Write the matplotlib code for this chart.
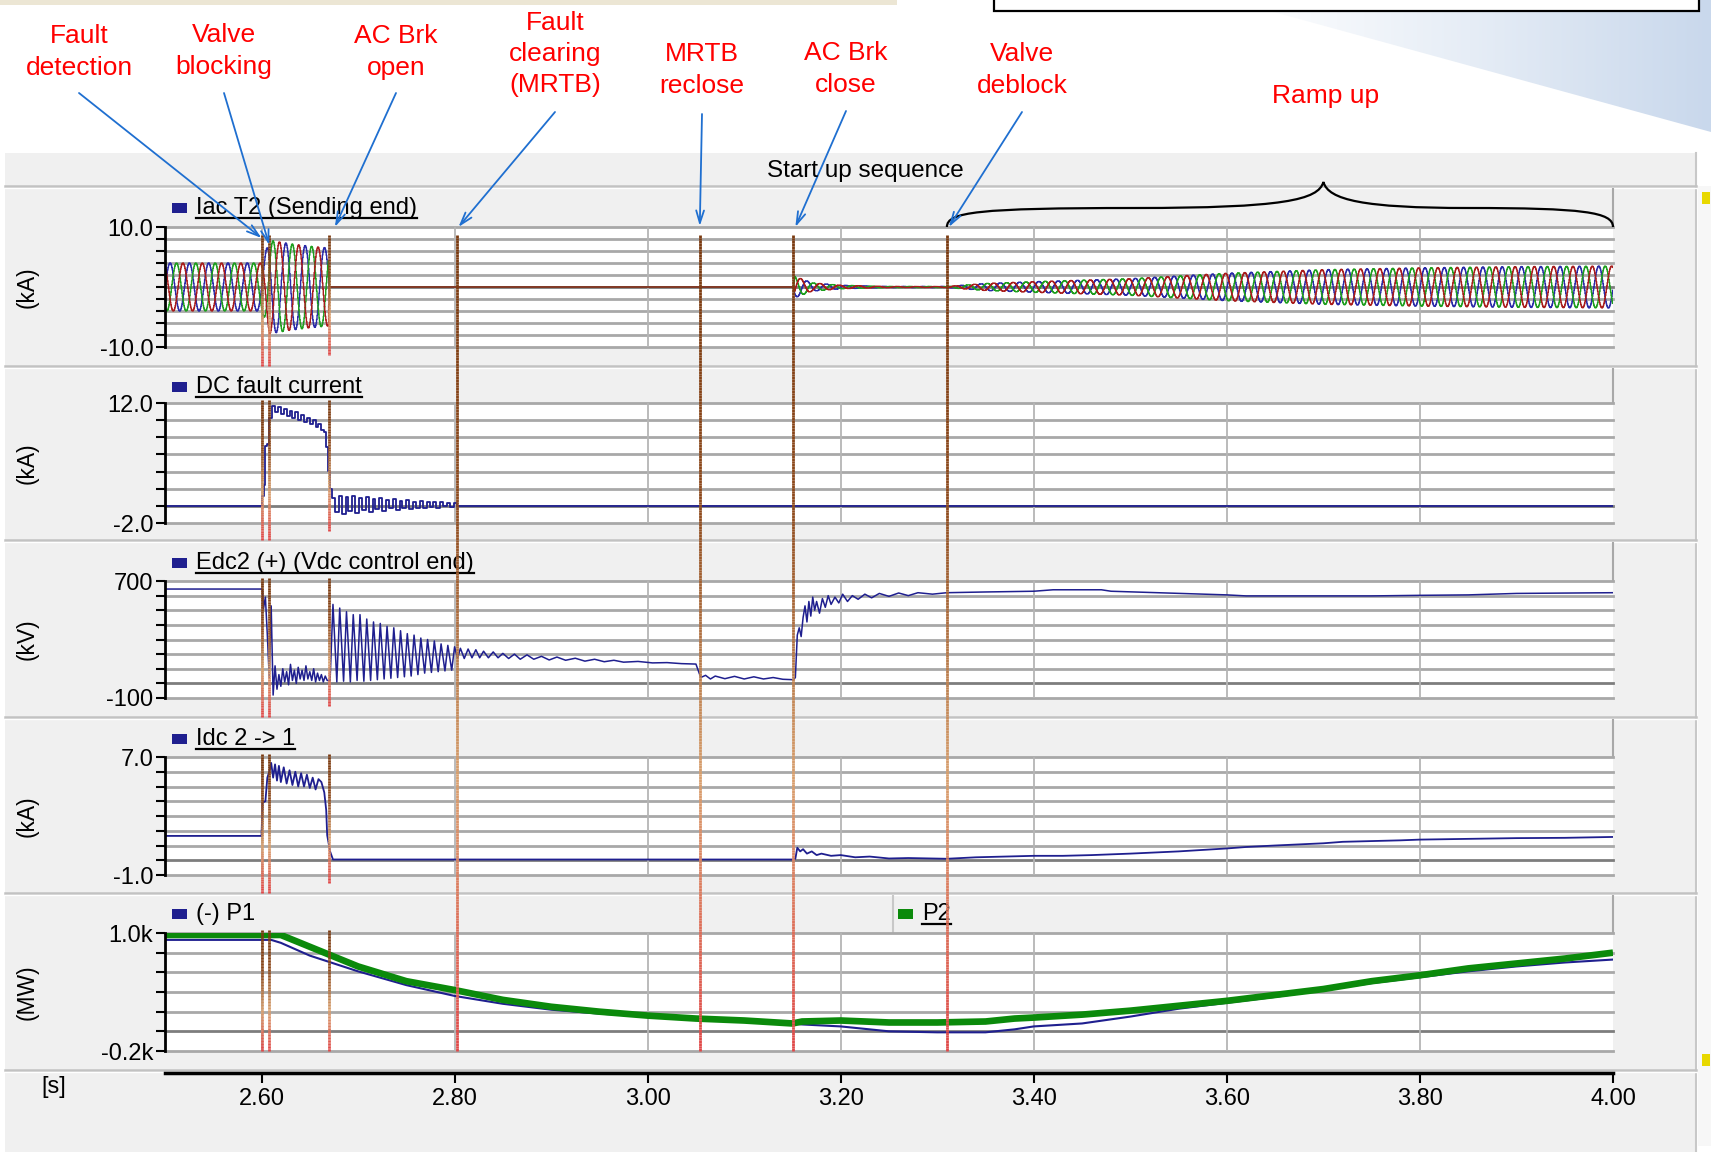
"""
Oscilograma: falla DC, despeje por MRTB y secuencia de arranque.
"""
import numpy as np
import matplotlib
matplotlib.use("Agg")
import matplotlib.pyplot as plt
from matplotlib.collections import LineCollection
from matplotlib.colors import LinearSegmentedColormap
from matplotlib.path import Path
from matplotlib.patches import PathPatch, Rectangle, Polygon

plt.rcParams["font.family"] = ["Liberation Sans", "DejaVu Sans"]

ANCHO, ALTO = 1711, 1152

# ---------------- datos ----------------
T_INI, T_FIN = 2.50, 4.00
TICKS_X = [2.60, 2.80, 3.00, 3.20, 3.40, 3.60, 3.80, 4.00]

EVENTOS_T = [2.600, 2.608, 2.670, 2.802, 3.054, 3.151, 3.310]
EVENTOS_TXT = ["Fault\ndetection", "Valve\nblocking", "AC Brk\nopen",
               "Fault\nclearing\n(MRTB)", "MRTB\nreclose", "AC Brk\nclose",
               "Valve\ndeblock"]

NOMBRES = ["Iac T2 (Sending end)", "DC fault current", "Edc2 (+) (Vdc control end)",
           "Idc 2 -> 1", "(-) P1"]
UNIDADES = ["(kA)", "(kA)", "(kV)", "(kA)", "(MW)"]
Y_MIN = [-10, -2, -100, -1, -0.2]
Y_MAX = [10, 12, 700, 7, 1.0]
Y_PASO = [2, 2, 100, 1, 0.2]
Y_ETIQ_MAX = ["10.0", "12.0", "700", "7.0", "1.0k"]
Y_ETIQ_MIN = ["-10.0", "-2.0", "-100", "-1.0", "-0.2k"]

# Iac T2: envolvente de las tres fases (kA)
IAC_F = 50.0
IAC_T = [2.50, 2.600, 2.608, 2.630, 2.650, 2.669, 2.670, 3.151, 3.152, 3.170,
         3.200, 3.250, 3.310, 3.350, 3.400, 3.500, 3.600, 3.700, 3.800, 3.900, 4.000]
IAC_AMP = [4.0, 4.0, 7.8, 7.2, 6.8, 6.5, 0.0, 0.0, 1.8, 0.7,
           0.3, 0.1, 0.1, 0.6, 0.9, 1.4, 2.3, 2.9, 3.2, 3.4, 3.5]

# Corriente de falla DC (kA)
DCF_T = [2.500, 2.600, 2.601, 2.603, 2.604, 2.606, 2.608, 2.611, 2.614, 2.617,
         2.620, 2.623, 2.626, 2.629, 2.632, 2.635, 2.638, 2.641, 2.644, 2.647,
         2.650, 2.653, 2.656, 2.659, 2.662, 2.665, 2.667, 2.669, 2.671, 2.673,
         2.676, 2.680, 2.683, 2.687, 2.690, 2.694, 2.697, 2.701, 2.704, 2.708,
         2.711, 2.715, 2.718, 2.722, 2.725, 2.729, 2.732, 2.736, 2.739, 2.743,
         2.746, 2.750, 2.753, 2.757, 2.760, 2.764, 2.767, 2.771, 2.774, 2.778,
         2.781, 2.785, 2.788, 2.792, 2.795, 2.799, 2.802, 4.000]
DCF_V = [0.0, 0.0, 1.2, 2.4, 7.0, 7.2, 10.2, 11.6, 10.9, 11.5,
         10.7, 11.3, 10.5, 11.1, 10.3, 10.9, 10.0, 10.6, 9.8, 10.3,
         9.5, 10.0, 9.2, 9.6, 8.9, 8.6, 6.9, 4.1, 2.0, 0.9,
         -0.7, 1.2, -0.9, 1.0, -0.6, 1.1, -0.8, 0.9, -0.5, 1.0,
         -0.7, 0.8, -0.4, 0.9, -0.6, 0.7, -0.3, 0.8, -0.5, 0.6,
         -0.2, 0.7, -0.4, 0.5, -0.2, 0.6, -0.3, 0.4, -0.1, 0.5,
         -0.2, 0.4, 0.0, 0.3, -0.1, 0.3, 0.0, 0.0]

# Edc2 (+) (kV)
EDC_T = [2.500, 2.600, 2.601, 2.602, 2.604, 2.606, 2.608, 2.610, 2.612, 2.614,
         2.616, 2.618, 2.620, 2.622, 2.624, 2.626, 2.628, 2.630, 2.632, 2.634,
         2.636, 2.638, 2.640, 2.642, 2.644, 2.646, 2.648, 2.650, 2.652, 2.654,
         2.656, 2.658, 2.660, 2.662, 2.664, 2.666, 2.668, 2.671, 2.674, 2.678,
         2.681, 2.685, 2.688, 2.692, 2.695, 2.699, 2.702, 2.706, 2.709, 2.713,
         2.716, 2.720, 2.723, 2.727, 2.730, 2.734, 2.737, 2.741, 2.744, 2.748,
         2.751, 2.755, 2.758, 2.762, 2.765, 2.769, 2.772, 2.776, 2.779, 2.783,
         2.786, 2.790, 2.793, 2.797, 2.800, 2.803, 2.806, 2.810, 2.814, 2.818,
         2.822, 2.826, 2.830, 2.835, 2.840, 2.845, 2.850, 2.856, 2.862, 2.868,
         2.875, 2.882, 2.890, 2.898, 2.906, 2.915, 2.925, 2.935, 2.945, 2.955,
         2.965, 2.975, 2.990, 3.005, 3.020, 3.035, 3.050, 3.055, 3.060, 3.065,
         3.070, 3.080, 3.090, 3.100, 3.110, 3.120, 3.130, 3.140, 3.151, 3.153,
         3.155, 3.157, 3.159, 3.161, 3.163, 3.165, 3.167, 3.169, 3.171, 3.173,
         3.175, 3.178, 3.181, 3.184, 3.187, 3.190, 3.194, 3.198, 3.202, 3.207,
         3.212, 3.218, 3.225, 3.232, 3.240, 3.250, 3.260, 3.270, 3.280, 3.295,
         3.310, 3.350, 3.400, 3.420, 3.470, 3.480, 3.550, 3.600, 3.620, 3.750,
         3.800, 3.850, 3.900, 4.000]
EDC_V = [645, 645, 640, 510, 590, 330, 40, 530, -80, 120,
         -40, 60, -20, 100, 10, 80, -10, 130, 20, 90,
         0, 110, 30, 90, 20, 120, 30, 80, 20, 100,
         10, 70, 20, 60, 10, 50, 20, 20, 540, 10,
         515, 15, 490, 10, 470, 20, 470, 15, 440, 20,
         420, 25, 410, 30, 390, 35, 380, 40, 360, 45,
         340, 50, 330, 60, 310, 70, 300, 75, 290, 80,
         270, 85, 260, 90, 250, 170, 240, 170, 235, 175,
         230, 175, 220, 175, 215, 175, 205, 170, 200, 165,
         195, 165, 185, 160, 180, 158, 172, 152, 165, 148,
         158, 145, 150, 140, 142, 135, 132, 40, 55, 30,
         50, 32, 48, 30, 45, 30, 40, 28, 25, 40,
         330, 380, 320, 450, 530, 420, 560, 460, 590, 500,
         560, 480, 580, 520, 600, 540, 590, 550, 610, 560,
         600, 575, 610, 585, 615, 595, 618, 600, 620, 610,
         620, 625, 630, 640, 640, 630, 615, 605, 598, 598,
         602, 605, 615, 620]

# Idc 2 -> 1 (kA)
IDC_T = [2.500, 2.600, 2.601, 2.604, 2.606, 2.608, 2.610, 2.612, 2.614, 2.616,
         2.618, 2.620, 2.623, 2.626, 2.629, 2.632, 2.635, 2.638, 2.641, 2.644,
         2.647, 2.650, 2.653, 2.656, 2.659, 2.662, 2.665, 2.667, 2.668, 2.671,
         2.674, 3.151, 3.153, 3.155, 3.158, 3.161, 3.165, 3.170, 3.175, 3.180,
         3.190, 3.200, 3.215, 3.230, 3.250, 3.270, 3.310, 3.340, 3.370, 3.400,
         3.430, 3.460, 3.500, 3.550, 3.600, 3.620, 3.650, 3.700, 3.720, 3.780,
         3.800, 3.900, 3.950, 4.000]
IDC_V = [1.65, 1.65, 3.9, 4.0, 5.6, 6.0, 6.6, 5.6, 6.5, 5.4,
         6.4, 5.3, 6.3, 5.2, 6.1, 5.1, 6.0, 5.0, 5.9, 5.0,
         5.8, 4.9, 5.6, 4.8, 5.5, 5.3, 4.6, 3.4, 1.7, 0.6,
         0.05, 0.05, 0.1, 0.85, 0.6, 0.75, 0.45, 0.6, 0.35, 0.45,
         0.3, 0.35, 0.2, 0.25, 0.12, 0.15, 0.1, 0.2, 0.25, 0.3,
         0.3, 0.35, 0.45, 0.6, 0.8, 0.9, 1.0, 1.15, 1.25, 1.35,
         1.4, 1.5, 1.52, 1.58]

# Potencias (k MW)
P_T = [2.50, 2.61, 2.62, 2.65, 2.70, 2.75, 2.80, 2.85, 2.90, 2.95,
       3.00, 3.05, 3.10, 3.15, 3.16, 3.20, 3.25, 3.30, 3.35, 3.38,
       3.40, 3.45, 3.50, 3.55, 3.60, 3.65, 3.70, 3.75, 3.80, 3.85,
       3.90, 3.95, 4.00]
P2_V = [0.98, 0.98, 0.98, 0.86, 0.66, 0.51, 0.42, 0.32, 0.25, 0.20,
        0.16, 0.13, 0.11, 0.08, 0.10, 0.11, 0.09, 0.09, 0.10, 0.13,
        0.14, 0.17, 0.21, 0.26, 0.31, 0.37, 0.43, 0.51, 0.57, 0.64,
        0.69, 0.74, 0.80]
P1_V = [0.93, 0.93, 0.90, 0.77, 0.61, 0.47, 0.36, 0.28, 0.22, 0.18,
        0.15, 0.13, 0.10, 0.08, 0.07, 0.05, 0.00, -0.01, -0.01, 0.02,
        0.05, 0.08, 0.15, 0.23, 0.29, 0.35, 0.42, 0.49, 0.55, 0.61,
        0.66, 0.70, 0.73]

# ---------------- estilo / posiciones (px) ----------------
AZUL = "#1f1f8f"
VERDE = "#0b8a0b"
COLORES_FASE = ["#2a2aa8", "#1e9e1e", "#a81c1c"]
PX_IZQ, PX_DER = 165, 1613
PANEL_Y = [(227, 347), (403, 523), (581, 698), (757, 875), (933, 1051)]
HEADER_Y = [208, 387, 563, 739, 914]
SEPARADORES = [186, 366, 540, 717, 893, 1070]
TEXTO_XY = [(79, 52), (224, 51), (396, 52), (555, 54), (702, 70), (846, 69), (1022, 70)]
FLECHA_INI = [(79, 93), (224, 93), (396, 93), (555, 112), (702, 114), (846, 111), (1022, 112)]
FLECHA_T = [2.600, 2.608, 2.676, 2.804, 3.054, 3.153, 3.312]
FLECHA_Y = [238, 245, 227, 227, 226, 227, 227]

CMAP_EVENTO = LinearSegmentedColormap.from_list(
    "evento", ["#7a3a10", "#8e4a1c", "#d9a06e", "#e04848"])


def caja(x0, y0, x1, y1):
    return [x0 / ANCHO, 1 - y1 / ALTO, (x1 - x0) / ANCHO, (y1 - y0) / ALTO]


fig = plt.figure(figsize=(ANCHO / 100, ALTO / 100), dpi=100)
fig.patch.set_facecolor("white")

# ---- fondo: diapositiva y ventana del osciloscopio ----
bg = fig.add_axes([0, 0, 1, 1], zorder=0)
bg.set_axis_off()
grad = np.linspace(0, 1, 256).reshape(1, -1)
cmap_azul = LinearSegmentedColormap.from_list("az", ["#ffffff", "#e6edf6", "#c9d8ec"])
im = bg.imshow(grad, extent=(1230, 1711, 140, 0), cmap=cmap_azul, aspect="auto")
cuna = Polygon([(1230, 0), (1711, 0), (1711, 132)], closed=True, fc="none", ec="none")
bg.add_patch(cuna)
im.set_clip_path(cuna)
bg.set_xlim(0, ANCHO)
bg.set_ylim(ALTO, 0)
bg.add_patch(Rectangle((0, 0), 897, 5, fc="#ece6d4", ec="none"))
bg.add_patch(Rectangle((994, -20), 705, 31, fc="white", ec="black", lw=1.6))
bg.add_patch(Rectangle((5, 153), 1691, ALTO - 153, fc="#f0f0f0", ec="none"))
bg.plot([1696, 1696], [153, ALTO], color="#c8c8c8", lw=1.5)
bg.add_patch(Rectangle((1698, 186), 13, 960, fc="#f7f7f7", ec="none"))
bg.add_patch(Rectangle((1702, 192), 8, 12, fc="#e8d800", ec="none"))
bg.add_patch(Rectangle((1702, 1054), 8, 12, fc="#e8d800", ec="none"))
for y in SEPARADORES:
    bg.plot([5, 1696], [y, y], color="#c2c2c2", lw=1.8)
    bg.plot([5, 1696], [y + 2, y + 2], color="white", lw=1.0)

renderer = fig.canvas.get_renderer()


def subrayar(txt):
    bb = txt.get_window_extent(renderer=renderer)
    inv = bg.transData.inverted()
    (xa, ya), (xb, _) = inv.transform([(bb.x0, bb.y0), (bb.x1, bb.y0)])
    bg.plot([xa, xb], [ya - 1, ya - 1], color="black", lw=1.6)


def leyenda(x, y, nombre, color, subrayado=True):
    bg.add_patch(Rectangle((x, y - 5), 15, 10, fc=color, ec="none"))
    t = bg.text(x + 24, y, nombre, fontsize=17, ha="left", va="center")
    if subrayado:
        subrayar(t)


for i in range(5):
    y0, y1 = PANEL_Y[i]
    bg.plot([PX_DER, PX_DER], [SEPARADORES[i] + 3, y0], color="#a8a8a8", lw=1.5)
    bg.text(27, (y0 + y1) / 2, UNIDADES[i], rotation=90, fontsize=16.5,
            ha="center", va="center")
    leyenda(172, HEADER_Y[i], NOMBRES[i], AZUL, subrayado=(i < 4))
bg.plot([893, 893], [SEPARADORES[4] + 3, PANEL_Y[4][0]], color="#c8c8c8", lw=1.5)
leyenda(898, HEADER_Y[4], "P2", VERDE)
bg.text(54, 1087, "[s]", fontsize=17, ha="center", va="center")

# ---- paneles ----
ejes = []
for i in range(5):
    y0, y1 = PANEL_Y[i]
    ax = fig.add_axes(caja(PX_IZQ, y0, PX_DER, y1), zorder=2)
    ax.set_facecolor("white")
    ax.set_xlim(T_INI, T_FIN)
    ax.set_ylim(Y_MIN[i], Y_MAX[i])
    n = int(round((Y_MAX[i] - Y_MIN[i]) / Y_PASO[i]))
    niveles = np.linspace(Y_MIN[i], Y_MAX[i], n + 1)
    for v in niveles:
        color = "#7d7d7d" if abs(v) < 1e-9 else "#a8a8a8"
        ax.axhline(v, color=color, lw=2.0, zorder=0, clip_on=False)
    for t in TICKS_X[:-1]:
        ax.axvline(t, color="#b5b5b5", lw=1.3, zorder=0)
    ax.set_yticks(niveles)
    etiquetas = [""] * len(niveles)
    etiquetas[0] = Y_ETIQ_MIN[i]
    etiquetas[-1] = Y_ETIQ_MAX[i]
    ax.set_yticklabels(etiquetas, fontsize=17)
    ax.set_xticks([])
    for lado in ["top", "right", "bottom"]:
        ax.spines[lado].set_visible(False)
    ax.spines["left"].set_linewidth(2.0)
    ax.tick_params(axis="y", direction="out", length=6.5, width=1.5, pad=2)
    ejes.append(ax)

# Iac T2: tres fases con la envolvente leida
t = np.arange(T_INI, T_FIN, 0.0005)
amp = np.interp(t, IAC_T, IAC_AMP)
for k, color in enumerate(COLORES_FASE):
    ejes[0].plot(t, amp * np.sin(2 * np.pi * IAC_F * t - k * 2 * np.pi / 3),
                 color=color, lw=1.0, drawstyle="steps-post")

ejes[1].plot(DCF_T, DCF_V, color=AZUL, lw=1.3, drawstyle="steps-post")
ejes[2].plot(EDC_T, EDC_V, color=AZUL, lw=1.1)
ejes[3].plot(IDC_T, IDC_V, color=AZUL, lw=1.3)
ejes[4].plot(P_T, P1_V, color=AZUL, lw=1.5)
ejes[4].plot(P_T, P2_V, color=VERDE, lw=4.8, solid_capstyle="butt")

# eje de tiempo
axx = fig.add_axes(caja(PX_IZQ, 1072, PX_DER, 1073), zorder=2)
axx.patch.set_alpha(0)
axx.set_xlim(T_INI, T_FIN)
axx.set_xticks(TICKS_X)
axx.set_xticklabels([f"{v:.2f}" for v in TICKS_X], fontsize=17)
axx.set_yticks([])
for lado in ["top", "left", "right"]:
    axx.spines[lado].set_visible(False)
axx.spines["bottom"].set_linewidth(2.5)
axx.tick_params(axis="x", direction="out", length=7, width=1.5, pad=4)

# ---- capa de anotaciones ----
ov = fig.add_axes([0, 0, 1, 1], zorder=5)
ov.patch.set_alpha(0)
ov.set_axis_off()
ov.set_xlim(0, ANCHO)
ov.set_ylim(ALTO, 0)


def px_de_t(tiempo):
    disp = ejes[0].transData.transform((tiempo, 0))
    return ov.transData.inverted().transform(disp)[0]


def linea_degradada(x, y_arriba, y_abajo, n=80):
    ys = np.linspace(y_arriba, y_abajo, n + 1)
    segs = [[(x, ys[j]), (x, ys[j + 1])] for j in range(n)]
    ov.add_collection(LineCollection(segs, colors=CMAP_EVENTO(np.linspace(0, 1, n)),
                                     linewidths=2.0))


for j, te in enumerate(EVENTOS_T):
    x = px_de_t(te)
    if j < 3:
        for i in range(5):
            arriba = PANEL_Y[i][0] + (8 if i == 0 else -3)
            if i == 4:
                abajo = PANEL_Y[i][1]
            elif j == 2:
                abajo = PANEL_Y[i][1] + 8
            else:
                abajo = SEPARADORES[i + 1]
            linea_degradada(x, arriba, abajo)
    else:
        linea_degradada(x, 235, PANEL_Y[4][1], n=300)

for j in range(len(EVENTOS_T)):
    ov.text(*TEXTO_XY[j], EVENTOS_TXT[j], color="#ff0000", fontsize=19,
            ha="center", va="center", linespacing=1.38)
    ov.annotate("", xy=(px_de_t(FLECHA_T[j]), FLECHA_Y[j]), xytext=FLECHA_INI[j],
                arrowprops=dict(arrowstyle="->,head_length=0.9,head_width=0.28",
                                color="#1f6fd0", lw=1.3, shrinkA=0, shrinkB=0))

ov.text(1326, 96, "Ramp up", color="#ff0000", fontsize=19, ha="center", va="center")
ov.text(865, 171, "Start up sequence", fontsize=17.5, ha="center", va="center")

# llave de la rampa
x0, xm, x1 = px_de_t(EVENTOS_T[6]), px_de_t(3.70), px_de_t(T_FIN)
yb, ymed, yt = 227, 208, 182
verts = [(x0, yb), (x0, yb - 15), (x0 + 30, ymed), ((x0 + xm) / 2, ymed),
         (xm - 40, ymed), (xm - 5, ymed - 8), (xm, yt),
         (xm + 5, ymed - 8), (xm + 40, ymed), ((xm + x1) / 2, ymed),
         (x1 - 30, ymed), (x1, yb - 15), (x1, yb)]
codes = [Path.MOVETO] + [Path.CURVE4] * 12
ov.add_patch(PathPatch(Path(verts, codes), fc="none", ec="black", lw=1.6))

fig.savefig("out.png", dpi=100)
plt.close(fig)
